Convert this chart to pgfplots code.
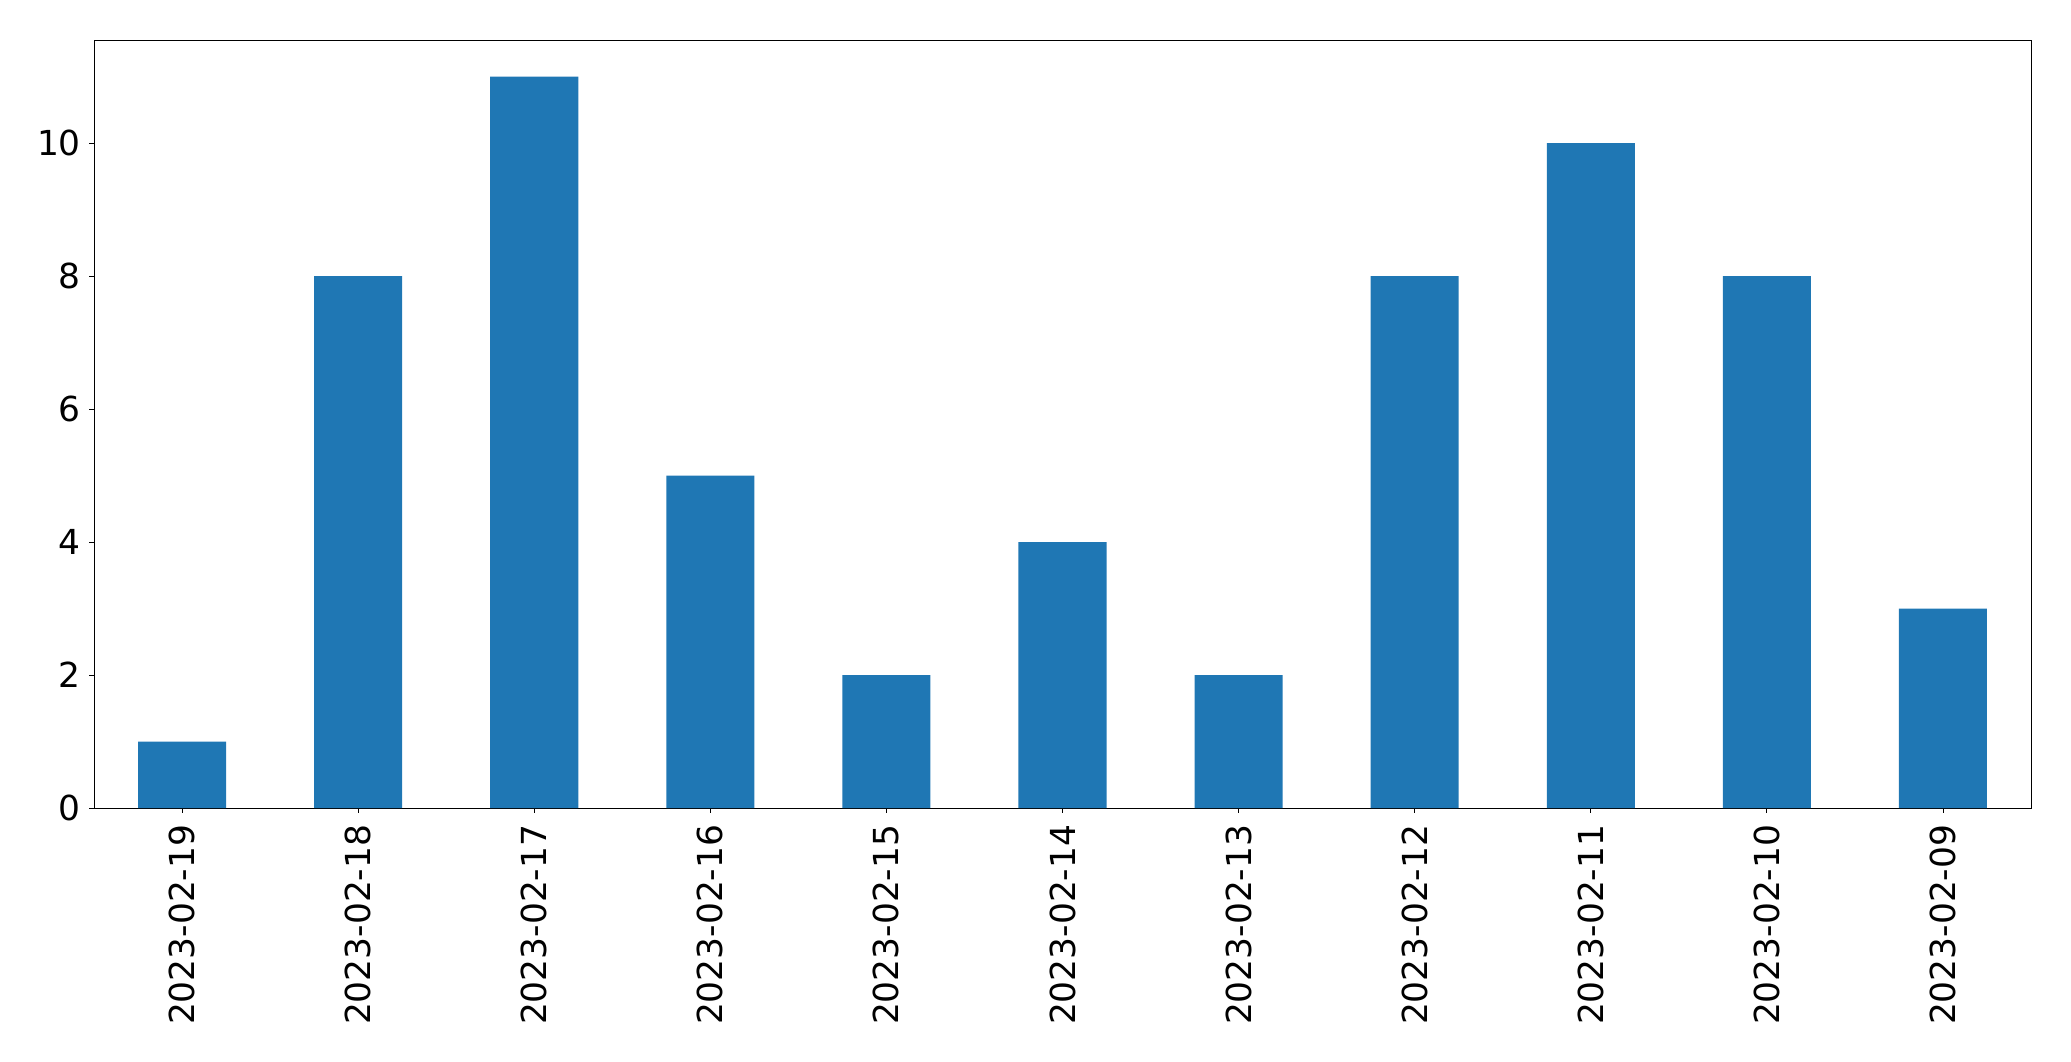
\documentclass[border=0pt]{standalone}
\usepackage{pgfplots}
\pgfplotsset{compat=1.18}
\usepackage{fontspec}
\setmainfont{DejaVu Sans}
\definecolor{mplblue}{HTML}{1F77B4}
\begin{document}
\begin{tikzpicture}
\begin{axis}[
  scale only axis,
  width=1394.6pt, height=553pt,
  xmin=-0.5, xmax=10.5, ymin=0, ymax=11.55,
  xtick={0,...,10},
  xticklabels={2023-02-19,2023-02-18,2023-02-17,2023-02-16,2023-02-15,2023-02-14,2023-02-13,2023-02-12,2023-02-11,2023-02-10,2023-02-09},
  ytick={0,2,4,6,8,10},
  tick align=outside, xtick pos=bottom, ytick pos=left,
  major tick length=3.3pt,
  every tick/.style={black, line width=0.6pt},
  axis line style={line width=0.6pt},
  /pgf/number format/assume math mode=true,
  tick label style={font=\fontsize{24.8pt}{30pt}\selectfont},
  xticklabel style={rotate=90, anchor=east, inner ysep=0pt, inner xsep=8.5pt},
  yticklabel style={inner sep=0pt, xshift=-6pt},
]
\addplot[ybar, bar width=0.5, fill=mplblue, draw=none] coordinates {
(0,1) (1,8) (2,11) (3,5) (4,2) (5,4) (6,2) (7,8) (8,10) (9,8) (10,3)
};
\end{axis}
\pgfresetboundingbox
\path[use as bounding box] (-67.7pt,-182.2pt) rectangle (1423.4pt,581.8pt);
\end{tikzpicture}
\end{document}
